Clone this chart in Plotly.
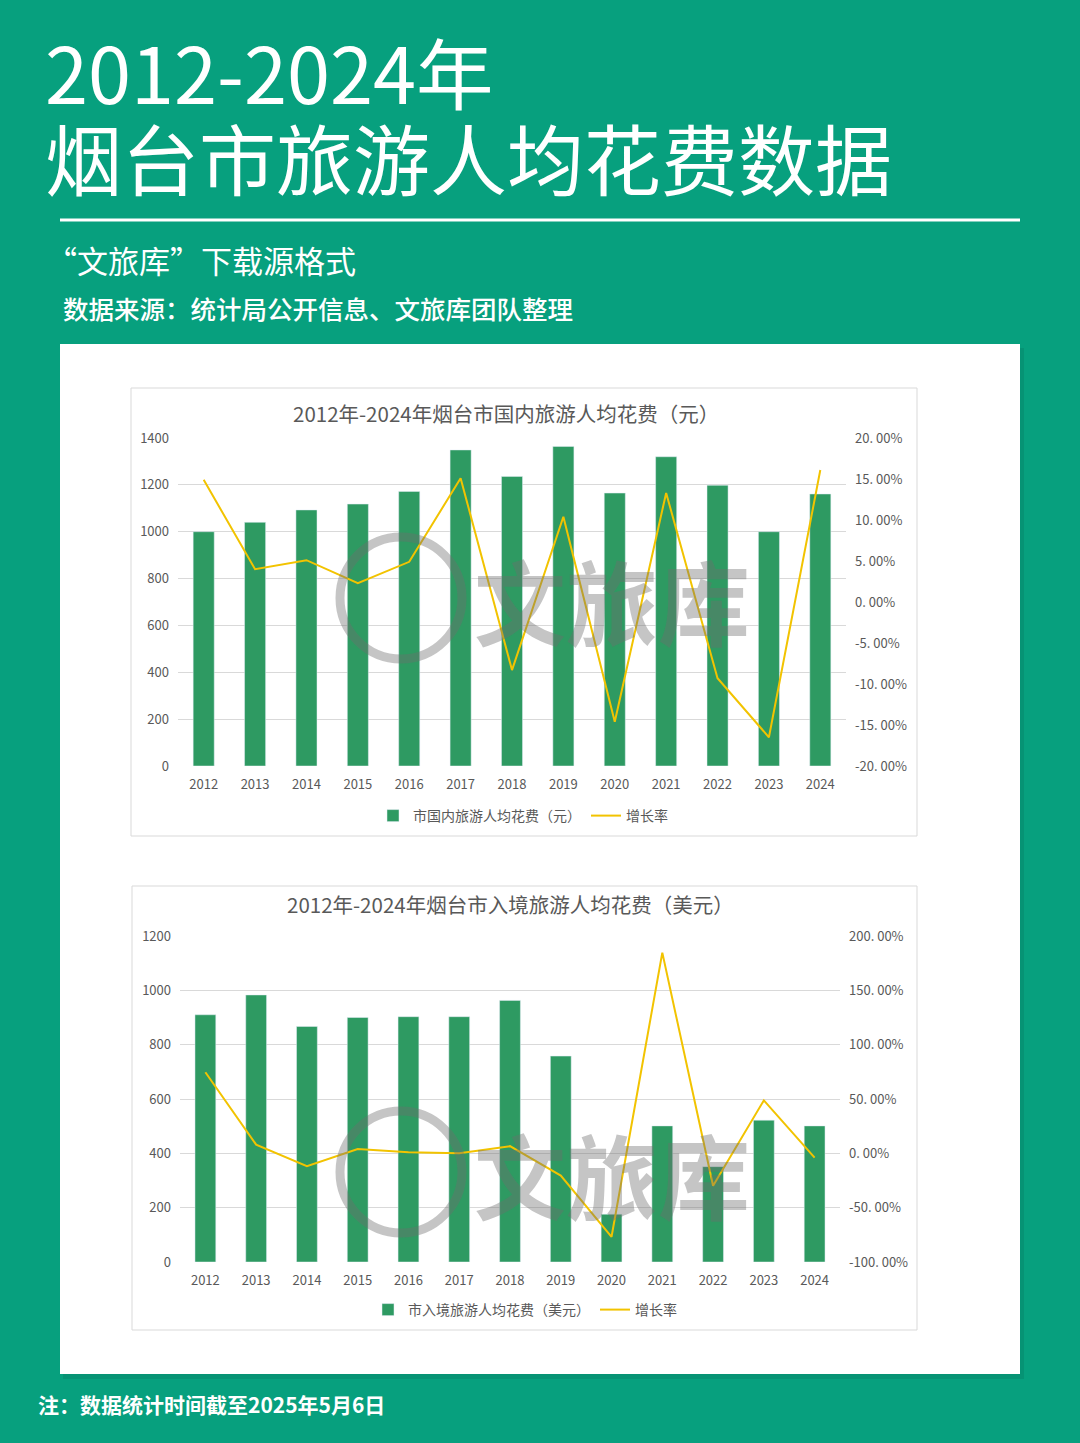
import plotly.graph_objects as go

W, H = 1080, 1443

years = [str(y) for y in range(2012, 2025)]
domestic_spend = [1000, 1040, 1093, 1118, 1172, 1349, 1236, 1364, 1165, 1320, 1198, 1000, 1161]
domestic_growth = [0.149, 0.040, 0.051, 0.023, 0.049, 0.151, -0.083, 0.104, -0.146, 0.133, -0.093, -0.165, 0.161]
inbound_spend = [910, 983, 867, 900, 903, 903, 963, 758, 176, 501, 351, 522, 501]
inbound_growth = [0.746, 0.080, -0.118, 0.040, 0.010, 0.000, 0.066, -0.205, -0.768, 1.847, -0.299, 0.487, -0.040]

dom_left_ticks = [0, 200, 400, 600, 800, 1000, 1200, 1400]
dom_right_vals = [-0.20, -0.15, -0.10, -0.05, 0.0, 0.05, 0.10, 0.15, 0.20]
dom_right_text = ["-20. 00%", "-15. 00%", "-10. 00%", "-5. 00%", "0. 00%", "5. 00%", "10. 00%", "15. 00%", "20. 00%"]
inb_left_ticks = [0, 200, 400, 600, 800, 1000, 1200]
inb_right_vals = [-1.0, -0.5, 0.0, 0.5, 1.0, 1.5, 2.0]
inb_right_text = ["-100. 00%", "-50. 00%", "0. 00%", "50. 00%", "100. 00%", "150. 00%", "200. 00%"]

BG = "#07A07E"
BAR = "#2E9A62"
LINE = "#F2C300"
TICK = "#595959"
GRID = "#D9D9D9"
FONT = "Noto Sans CJK SC"


def px(x):
    return x / W


def py(y):
    return 1 - y / H


fig = go.Figure()

fig.add_trace(go.Bar(x=years, y=domestic_spend, name="市国内旅游人均花费（元）", marker_color=BAR,
                     xaxis="x", yaxis="y", legend="legend"))
fig.add_trace(go.Scatter(x=years, y=domestic_growth, name="增长率", mode="lines",
                         line=dict(color=LINE, width=2), xaxis="x", yaxis="y2", legend="legend"))
fig.add_trace(go.Bar(x=years, y=inbound_spend, name="市入境旅游人均花费（美元）", marker_color=BAR,
                     xaxis="x3", yaxis="y3", legend="legend2"))
fig.add_trace(go.Scatter(x=years, y=inbound_growth, name="增长率", mode="lines",
                         line=dict(color=LINE, width=2), xaxis="x3", yaxis="y4", legend="legend2"))

tickfont = dict(family=FONT, size=13, color=TICK)

shapes = []
annotations = []

# white panel with shadow
shapes.append(dict(type="rect", xref="paper", yref="paper", x0=px(63), x1=px(1024), y0=py(1379), y1=py(348),
                   fillcolor="rgba(0,0,0,0.08)", line=dict(width=0), layer="below"))
shapes.append(dict(type="rect", xref="paper", yref="paper", x0=px(60), x1=px(1020), y0=py(1374), y1=py(344),
                   fillcolor="white", line=dict(width=0), layer="below"))
# chart boxes
shapes.append(dict(type="rect", xref="paper", yref="paper", x0=px(131), x1=px(917), y0=py(836), y1=py(388),
                   fillcolor="white", line=dict(color="#D9D9D9", width=1), layer="below"))
shapes.append(dict(type="rect", xref="paper", yref="paper", x0=px(132), x1=px(917), y0=py(1330), y1=py(886),
                   fillcolor="white", line=dict(color="#D9D9D9", width=1), layer="below"))
# header rule
shapes.append(dict(type="line", xref="paper", yref="paper", x0=px(60), x1=px(1020), y0=py(220), y1=py(220),
                   line=dict(color="white", width=3)))

# watermarks
for cy in (598, 1172):
    shapes.append(dict(type="circle", xref="paper", yref="paper", x0=px(340), x1=px(462), y0=py(cy + 61), y1=py(cy - 61),
                       line=dict(color="rgba(110,110,110,0.40)", width=9)))
    annotations.append(dict(text="文旅库", xref="paper", yref="paper", x=px(612), y=py(cy), showarrow=False,
                            xanchor="center", yanchor="middle",
                            font=dict(family=FONT, size=92, color="rgba(110,110,110,0.40)", weight="bold")))

# header texts
head = [
    dict(text="2012-2024年", x=px(43), y=py(70), font=dict(family=FONT, size=77.5, color="white")),
    dict(text="烟台市旅游人均花费数据", x=px(43), y=py(156), font=dict(family=FONT, size=77, color="white")),
    dict(text="“文旅库”下载源格式", x=px(44), y=py(259), font=dict(family=FONT, size=31, color="white")),
    dict(text="数据来源：统计局公开信息、文旅库团队整理", x=px(61), y=py(307),
         font=dict(family=FONT, size=25.5, color="white", weight=500)),
    dict(text="注：数据统计时间截至2025年5月6日", x=px(36), y=py(1404),
         font=dict(family=FONT, size=21, color="white", weight="bold")),
]
for a in head:
    a.update(xref="paper", yref="paper", showarrow=False, xanchor="left", yanchor="middle")
annotations += head

# chart titles
annotations.append(dict(text="2012年-2024年烟台市国内旅游人均花费（元）", xref="paper", yref="paper", x=px(506), y=py(413),
                        showarrow=False, xanchor="center", yanchor="middle",
                        font=dict(family=FONT, size=20.5, color="#595959")))
annotations.append(dict(text="2012年-2024年烟台市入境旅游人均花费（美元）", xref="paper", yref="paper", x=px(510), y=py(904),
                        showarrow=False, xanchor="center", yanchor="middle",
                        font=dict(family=FONT, size=20.5, color="#595959")))

axis_common = dict(automargin=False)

fig.update_layout(
    width=W, height=H, autosize=False,
    margin=dict(l=0, r=0, t=0, b=0, pad=0, autoexpand=False),
    paper_bgcolor=BG, plot_bgcolor="rgba(0,0,0,0)",
    font=dict(family=FONT),
    bargap=0.59,
    shapes=shapes, annotations=annotations,
    xaxis=dict(domain=[px(178), px(846)], anchor="y", type="category", tickfont=tickfont,
               showgrid=False, showline=False, ticks="", ticklabelstandoff=9, **axis_common),
    yaxis=dict(domain=[py(766), py(438)], anchor="x", range=[0, 1400], tickvals=dom_left_ticks,
               tickfont=tickfont, gridcolor=GRID, gridwidth=1, zeroline=False, ticklabelstandoff=8, **axis_common),
    yaxis2=dict(overlaying="y", anchor="x", side="right", range=[-0.2, 0.2], tickvals=dom_right_vals,
                ticktext=dom_right_text, tickfont=tickfont, showgrid=False, zeroline=False, ticklabelstandoff=8,
                **axis_common),
    xaxis3=dict(domain=[px(180), px(840)], anchor="y3", type="category", tickfont=tickfont,
                showgrid=False, showline=False, ticks="", ticklabelstandoff=9, **axis_common),
    yaxis3=dict(domain=[py(1262), py(936)], anchor="x3", range=[0, 1200], tickvals=inb_left_ticks,
                tickfont=tickfont, gridcolor=GRID, gridwidth=1, zeroline=False, ticklabelstandoff=8, **axis_common),
    yaxis4=dict(overlaying="y3", anchor="x3", side="right", range=[-1.0, 2.0], tickvals=inb_right_vals,
                ticktext=inb_right_text, tickfont=tickfont, showgrid=False, zeroline=False, ticklabelstandoff=8,
                **axis_common),
    legend=dict(orientation="h", x=px(523), y=py(816), xanchor="center", yanchor="middle",
                font=dict(family=FONT, size=14, color=TICK), bgcolor="rgba(0,0,0,0)"),
    legend2=dict(orientation="h", x=px(525), y=py(1310), xanchor="center", yanchor="middle",
                 font=dict(family=FONT, size=14, color=TICK), bgcolor="rgba(0,0,0,0)"),
)

fig.write_html("out.html", config={"displayModeBar": False},
               post_script="document.body.style.margin='0';document.body.style.overflow='hidden';")
